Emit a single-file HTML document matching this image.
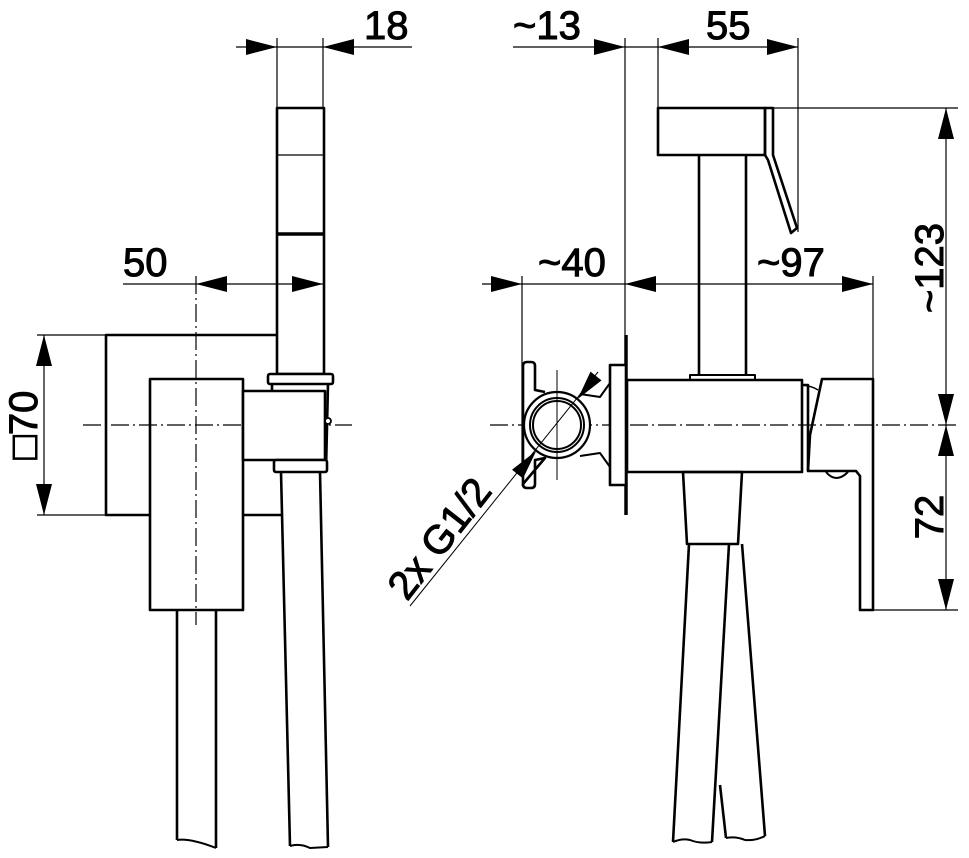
<!DOCTYPE html>
<html><head><meta charset="utf-8"><style>
html,body{margin:0;padding:0;background:#fff;}
svg{display:block;}
text{font-family:"Liberation Sans",Arial,sans-serif;fill:#000;stroke:#000;stroke-width:1;}
</style></head><body>
<svg width="969" height="858" viewBox="0 0 969 858" xmlns="http://www.w3.org/2000/svg">
<g fill="none" stroke="#000" stroke-width="1.2">
<line x1="236" y1="47" x2="412" y2="47"/>
<line x1="277" y1="38" x2="277" y2="108"/>
<line x1="323" y1="38" x2="323" y2="108"/>
<line x1="123" y1="284" x2="323" y2="284"/>
<line x1="196" y1="276" x2="196" y2="625" stroke-dasharray="18,4,2,4"/>
<line x1="37" y1="335" x2="277" y2="335"/>
<line x1="37" y1="515" x2="106" y2="515"/>
<line x1="44" y1="335" x2="44" y2="515"/>
<line x1="83" y1="425" x2="352" y2="425" stroke-dasharray="18,4,2,4"/>
<line x1="513" y1="47" x2="798" y2="47"/>
<line x1="625" y1="38" x2="625" y2="335"/>
<line x1="658" y1="38" x2="658" y2="108"/>
<line x1="798" y1="38" x2="798" y2="232"/>
<line x1="773" y1="108" x2="958" y2="108"/>
<line x1="482" y1="284" x2="873" y2="284"/>
<line x1="522" y1="276" x2="522" y2="470"/>
<line x1="873" y1="276" x2="873" y2="380"/>
<line x1="490" y1="425" x2="958" y2="425" stroke-dasharray="18,4,2,4"/>
<line x1="873" y1="610" x2="958" y2="610"/>
<line x1="946" y1="108" x2="946" y2="610"/>
</g>
<g fill="#000">
<polygon points="277,47 246,39 246,55"/>
<polygon points="323,47 354,39 354,55"/>
<polygon points="196,284 227,276 227,292"/>
<polygon points="323,284 292,276 292,292"/>
<polygon points="44,335 36,366 52,366"/>
<polygon points="44,515 36,484 52,484"/>
<polygon points="625,47 594,39 594,55"/>
<polygon points="658,47 689,39 689,55"/>
<polygon points="798,47 767,39 767,55"/>
<polygon points="522,284 491,276 491,292"/>
<polygon points="625,284 656,276 656,292"/>
<polygon points="873,284 842,276 842,292"/>
<polygon points="946,108 938,139 954,139"/>
<polygon points="946,425 938,394 954,394"/>
<polygon points="946,425 938,456 954,456"/>
<polygon points="946,610 938,579 954,579"/>
</g>
<g fill="none" stroke="#000" stroke-width="2.6" stroke-linejoin="round">
<rect x="277" y="108" width="47" height="266"/>
<line x1="277" y1="155" x2="324" y2="155" stroke-width="1.2"/>
<line x1="277" y1="234" x2="324" y2="234" stroke-width="3.5"/>
<polyline points="277,335 106,335 106,515 150,515"/>
<line x1="243" y1="515" x2="281" y2="515"/>
<rect x="150" y="379" width="93" height="231"/>
<rect x="243" y="391" width="82" height="69" fill="#fff"/>
<rect x="268" y="374" width="65" height="10" rx="2" fill="#fff"/>
<polyline points="272,384 272,391"/>
<polyline points="328,384 326,470"/>
<rect x="274" y="460" width="53" height="12" rx="2" fill="#fff"/>
<circle cx="328" cy="421" r="3" fill="#fff" stroke-width="1.8"/>
<polyline points="281,472 290,846"/>
<polyline points="320,472 328,847"/>
<path d="M290,846 Q300,843 310,848 L328,847" stroke-width="2"/>
<polyline points="177,610 177,840"/>
<polyline points="216,610 216,848"/>
<path d="M177,840 Q190,838 216,848" stroke-width="2"/>
</g>
<g fill="none" stroke="#000" stroke-width="2.6" stroke-linejoin="round">
<rect x="658" y="108" width="107" height="47"/>
<polygon points="765,108 773,108 773,155 797,228 791,233 768,160 765,155"/>
<line x1="699" y1="155" x2="699" y2="375"/>
<line x1="746" y1="155" x2="746" y2="375"/>
<rect x="690" y="375" width="65" height="5" stroke-width="2"/>
<line x1="626" y1="335" x2="626" y2="515" stroke-width="3.5"/>
<rect x="610" y="365" width="16" height="120" fill="#fff"/>
<rect x="627" y="380" width="175" height="92"/>
<polyline points="802,385 808,385 808,471"/>
<path d="M802,385 Q812,386 818,390" stroke-width="1.5"/>
<polygon points="822,379 873,379 873,610 860,610 860,476 856,471 808,471 810,435"/>
<path d="M826,472 Q836,484 848,472" stroke-width="2"/>
<polygon points="683,472 742,472 738,544 687,544"/>
<polyline points="689,544 673,842"/>
<polyline points="729,544 712,842"/>
<path d="M673,842 Q682,838 690,840 Q700,844 712,842" stroke-width="2"/>
<polyline points="742,544 765,836"/>
<polyline points="720,785 726,838"/>
<path d="M726,838 Q736,836 745,840 Q755,841 765,836" stroke-width="2"/>
<path d="M523,366 Q523,362 527,362 L531,362 Q535,362 535,366 L535,390 L545,392"/>
<path d="M545,458 L535,460 L535,484 Q535,488 531,488 L527,488 Q523,488 523,484 Z"/>
<line x1="523" y1="366" x2="523" y2="486"/>
<polyline points="580,394 600,397 610,383" stroke-width="2"/>
<polyline points="580,456 600,453 610,467" stroke-width="2"/>
<circle cx="557" cy="425" r="33" fill="#fff" stroke-width="2.2"/>
<circle cx="557" cy="425" r="27" stroke-width="2"/>
<circle cx="557" cy="425" r="24" stroke-width="2"/>
</g>
<g fill="none" stroke="#000" stroke-width="1">
<line x1="557" y1="370" x2="557" y2="480"/>
<line x1="598" y1="372" x2="410" y2="606"/>
</g>
<g fill="#000">
<polygon points="577.7,399 601.5,380.4 590.5,371.6"/>
<polygon points="536.3,450.7 523,478.5 512,469.7"/>
</g>
<g font-size="40">
<text x="364" y="39">18</text>
<text x="123" y="276">50</text>
<text x="513" y="39">~13</text>
<text x="706" y="39">55</text>
<text x="538" y="276">~40</text>
<text x="757" y="276">~97</text>
<text transform="translate(37,425) rotate(-90)" text-anchor="middle">□70</text>
<text transform="translate(943,268) rotate(-90)" text-anchor="middle">~123</text>
<text transform="translate(943,517) rotate(-90)" text-anchor="middle">72</text>
<text transform="translate(407,602) rotate(-52)">2x G1/2</text>
</g>
</svg>
</body></html>
